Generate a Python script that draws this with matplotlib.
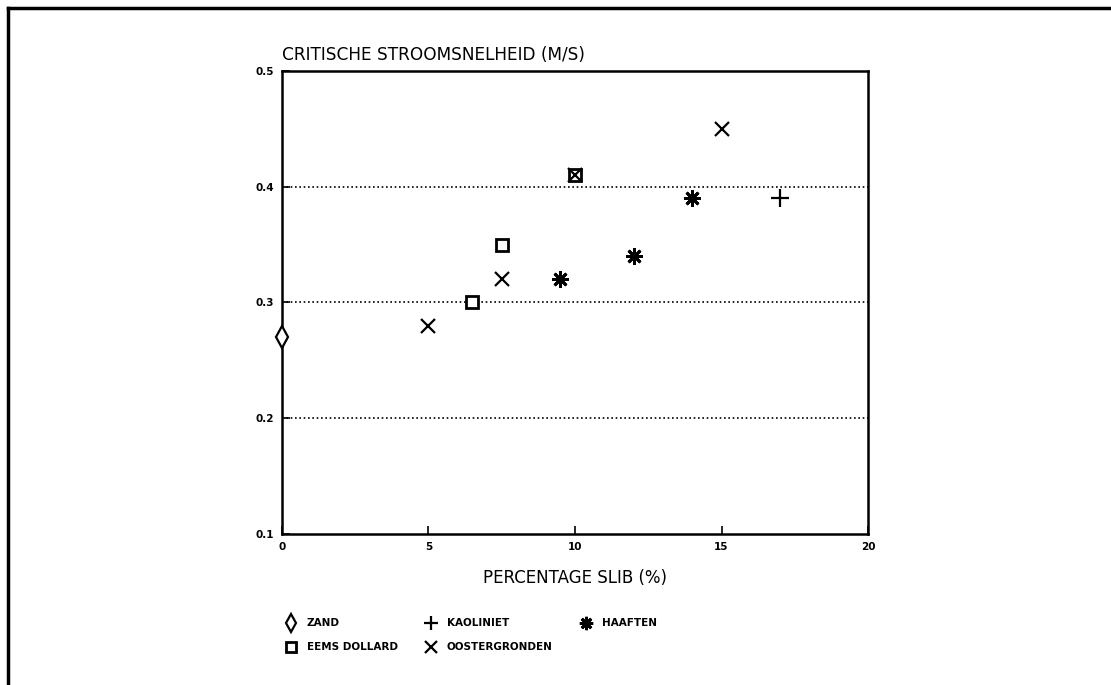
import matplotlib.pyplot as plt
from matplotlib.lines import Line2D

# critical flow velocity (m/s) against mud percentage
zand_x = [0]
zand_y = [0.27]
eems_x = [6.5, 7.5, 10]
eems_y = [0.30, 0.35, 0.41]
kaol_x = [17]
kaol_y = [0.39]
oost_x = [5, 7.5, 10, 15]
oost_y = [0.28, 0.32, 0.41, 0.45]
haaf_x = [9.5, 12, 14]
haaf_y = [0.32, 0.34, 0.39]

grid_levels = [0.2, 0.3, 0.4]
x_ticks = [0, 5, 10, 15, 20]
y_ticks = [0.1, 0.2, 0.3, 0.4, 0.5]

fig = plt.figure(figsize=(11.11, 6.85), dpi=100)
ax = fig.add_axes([0.2538, 0.2204, 0.5275, 0.676])

for lvl in grid_levels:
    ax.axhline(lvl, color="black", lw=1.2, ls=(0, (1, 1.6)), zorder=1)

asterisk = (8, 2, 0)
common = dict(color="black", linestyle="none", zorder=3)
h_zand, = ax.plot(zand_x, zand_y, marker="d", ms=11, mfc="white", mew=1.6,
                  clip_on=False, **common)
h_eems, = ax.plot(eems_x, eems_y, marker="s", ms=9, mfc="white", mew=2.0, **common)
h_kaol, = ax.plot(kaol_x, kaol_y, marker="+", ms=13, mew=1.6, **common)
h_oost, = ax.plot(oost_x, oost_y, marker="x", ms=10, mew=1.6, **common)
h_haaf, = ax.plot(haaf_x, haaf_y, marker=asterisk, ms=12, mew=2.0, **common)

ax.set_xlim(0, 20)
ax.set_ylim(0.1, 0.5)
ax.set_xticks(x_ticks)
ax.set_yticks(y_ticks)
ax.set_xticklabels([str(t) for t in x_ticks])
ax.set_yticklabels([f"{t:.1f}" for t in y_ticks])
ax.tick_params(direction="in", length=6, width=1.2, labelsize=7.5, pad=6)
for lab in ax.get_xticklabels() + ax.get_yticklabels():
    lab.set_fontweight("bold")
for side in ax.spines.values():
    side.set_linewidth(1.8)

ax.text(0.0, 1.015, "CRITISCHE STROOMSNELHEID (M/S)", transform=ax.transAxes,
        ha="left", va="bottom", fontsize=12.2, family="DejaVu Sans")
ax.set_xlabel("PERCENTAGE SLIB (%)", fontsize=12, labelpad=12)

handles = [h_zand, h_eems, h_kaol, h_oost, h_haaf]
labels = ["ZAND", "EEMS DOLLARD", "KAOLINIET", "OOSTERGRONDEN", "HAAFTEN"]
leg = fig.legend(handles, labels, ncol=3, frameon=False,
                 loc="upper left", bbox_to_anchor=(0.248, 0.111),
                 prop={"size": 7.5, "weight": "bold"},
                 handlelength=1.2, handletextpad=0.9, columnspacing=2.6,
                 labelspacing=1.35, markerscale=0.8)

# outer frame (top and left edges only)
fig.add_artist(Line2D([0.007, 1.0], [0.988, 0.988], color="black", lw=2.5,
                      transform=fig.transFigure))
fig.add_artist(Line2D([0.007, 0.007], [0.0, 0.988], color="black", lw=2.5,
                      transform=fig.transFigure))

fig.savefig("out.png", dpi=100)
